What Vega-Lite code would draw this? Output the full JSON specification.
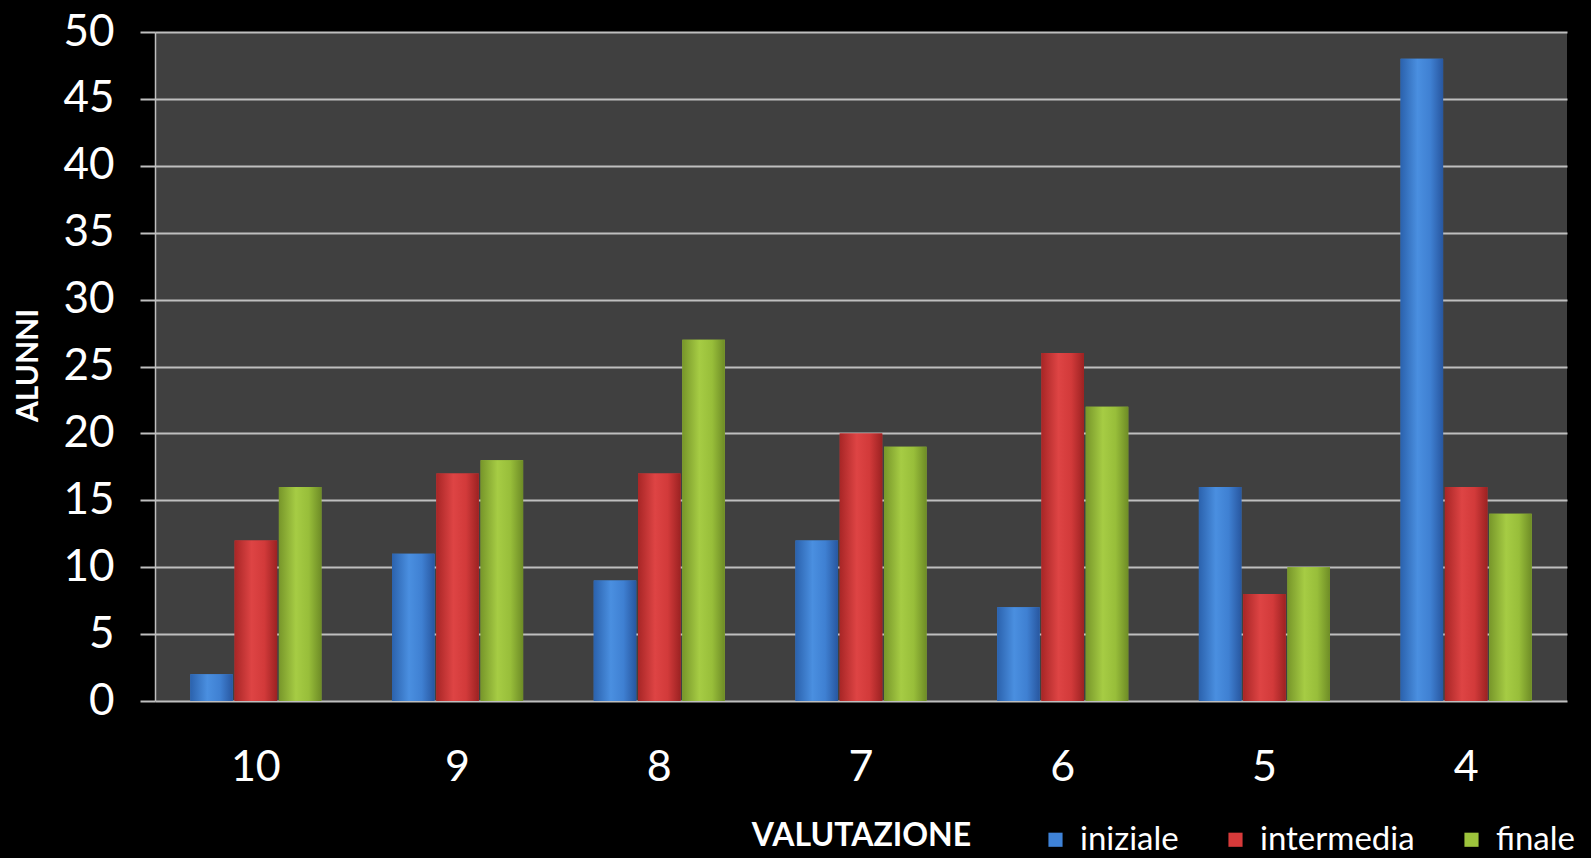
{
  "$schema": "https://vega.github.io/schema/vega-lite/v6.json",
  "width": 1412,
  "height": 669,
  "autosize": "none",
  "padding": {"left": 155, "top": 32, "right": 24, "bottom": 157},
  "background": "#000000",
  "config": {
    "font": "Lato",
    "view": {"fill": "#404040", "stroke": null}
  },
  "data": {
    "values": [
      {"valutazione": "10", "serie": "iniziale", "alunni": 2},
      {"valutazione": "10", "serie": "intermedia", "alunni": 12},
      {"valutazione": "10", "serie": "finale", "alunni": 16},
      {"valutazione": "9", "serie": "iniziale", "alunni": 11},
      {"valutazione": "9", "serie": "intermedia", "alunni": 17},
      {"valutazione": "9", "serie": "finale", "alunni": 18},
      {"valutazione": "8", "serie": "iniziale", "alunni": 9},
      {"valutazione": "8", "serie": "intermedia", "alunni": 17},
      {"valutazione": "8", "serie": "finale", "alunni": 27},
      {"valutazione": "7", "serie": "iniziale", "alunni": 12},
      {"valutazione": "7", "serie": "intermedia", "alunni": 20},
      {"valutazione": "7", "serie": "finale", "alunni": 19},
      {"valutazione": "6", "serie": "iniziale", "alunni": 7},
      {"valutazione": "6", "serie": "intermedia", "alunni": 26},
      {"valutazione": "6", "serie": "finale", "alunni": 22},
      {"valutazione": "5", "serie": "iniziale", "alunni": 16},
      {"valutazione": "5", "serie": "intermedia", "alunni": 8},
      {"valutazione": "5", "serie": "finale", "alunni": 10},
      {"valutazione": "4", "serie": "iniziale", "alunni": 48},
      {"valutazione": "4", "serie": "intermedia", "alunni": 16},
      {"valutazione": "4", "serie": "finale", "alunni": 14}
    ]
  },
  "encoding": {
    "x": {
      "field": "valutazione",
      "type": "nominal",
      "sort": ["10", "9", "8", "7", "6", "5", "4"],
      "scale": {"paddingInner": 0.35, "paddingOuter": 0.175},
      "axis": {
        "title": "VALUTAZIONE",
        "titleColor": "#ffffff",
        "titleFontSize": 32,
        "titleFontWeight": "bold",
        "titleBaseline": "middle",
        "titleY": 134,
        "titleX": 706,
        "labelAngle": 0,
        "labelColor": "#ffffff",
        "labelFontSize": 43,
        "labelPadding": 45,
        "domain": false,
        "ticks": false
      }
    },
    "xOffset": {
      "field": "serie",
      "type": "nominal",
      "sort": ["iniziale", "intermedia", "finale"],
      "scale": {"domain": ["iniziale", "intermedia", "finale"], "paddingInner": 0.04}
    },
    "y": {
      "field": "alunni",
      "type": "quantitative",
      "scale": {"domain": [0, 50], "nice": false},
      "axis": {
        "title": "ALUNNI",
        "titleColor": "#ffffff",
        "titleFontSize": 30,
        "titleFontWeight": "bold",
        "titleX": -127,
        "titleY": 333,
        "titleBaseline": "middle",
        "values": [0, 5, 10, 15, 20, 25, 30, 35, 40, 45, 50],
        "labelColor": "#ffffff",
        "labelFontSize": 44,
        "labelPadding": 26,
        "tickSize": 15,
        "tickColor": "#bfbfbf",
        "tickWidth": 2,
        "gridColor": "#bfbfbf",
        "gridWidth": 2,
        "gridOpacity": 1,
        "domain": true,
        "domainColor": "#bfbfbf",
        "domainWidth": 1.5
      }
    }
  },
  "layer": [
    {
      "mark": {"type": "bar"},
      "encoding": {
        "color": {
          "field": "serie",
          "type": "nominal",
          "sort": ["iniziale", "intermedia", "finale"],
          "scale": {"domain": ["iniziale", "intermedia", "finale"], "range": ["#3f83d8", "#d73a3a", "#9dc43c"]},
          "legend": {
            "title": null,
            "orient": "none",
            "direction": "horizontal",
            "legendX": 884,
            "legendY": 791,
            "symbolType": "square",
            "symbolSize": 200,
            "symbolStrokeWidth": 0,
            "labelColor": "#ffffff",
            "labelFontSize": 33,
            "labelLimit": 400,
            "labelOffset": 8,
            "columnPadding": 40
          }
        }
      }
    },
    {
      "transform": [{"filter": "datum.serie === 'iniziale'"}],
      "mark": {"type": "bar", "fill": {"gradient": "linear", "x1": 0, "x2": 1, "y1": 0, "y2": 0, "stops": [{"offset": 0, "color": "#2b62ad"}, {"offset": 0.4, "color": "#4a8fe0"}, {"offset": 0.7, "color": "#3f80d2"}, {"offset": 1, "color": "#2857a0"}]}}
    },
    {
      "transform": [{"filter": "datum.serie === 'intermedia'"}],
      "mark": {"type": "bar", "fill": {"gradient": "linear", "x1": 0, "x2": 1, "y1": 0, "y2": 0, "stops": [{"offset": 0, "color": "#a82626"}, {"offset": 0.4, "color": "#de4444"}, {"offset": 0.7, "color": "#d23a3a"}, {"offset": 1, "color": "#9c2222"}]}}
    },
    {
      "transform": [{"filter": "datum.serie === 'finale'"}],
      "mark": {"type": "bar", "fill": {"gradient": "linear", "x1": 0, "x2": 1, "y1": 0, "y2": 0, "stops": [{"offset": 0, "color": "#77962a"}, {"offset": 0.4, "color": "#a6cc44"}, {"offset": 0.7, "color": "#98be3a"}, {"offset": 1, "color": "#6e8c26"}]}}
    }
  ]
}
